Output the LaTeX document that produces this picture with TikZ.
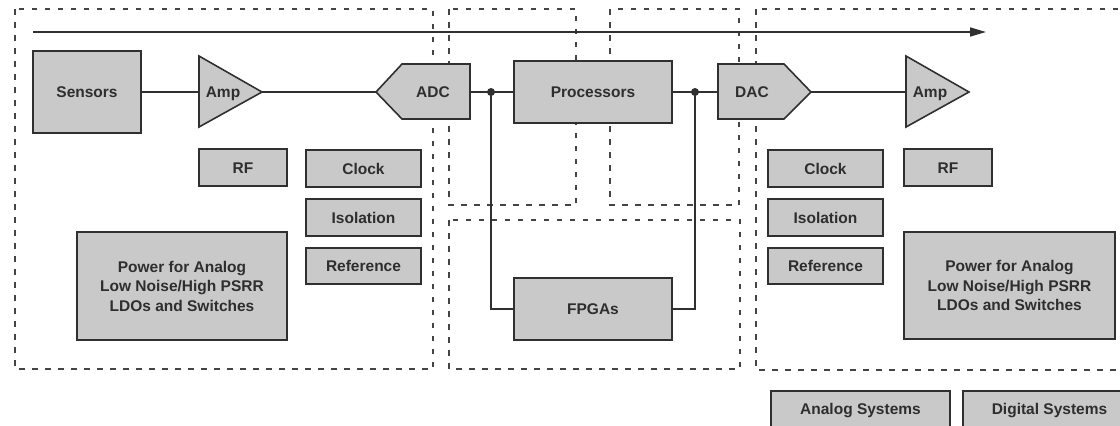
\documentclass[tikz,border=0pt]{standalone}
\usepackage{fontspec}
\setmainfont{Liberation Sans}
\usetikzlibrary{arrows.meta}
\definecolor{edgec}{HTML}{303030}
\definecolor{boxfill}{HTML}{C9C9C9}
\definecolor{txtc}{HTML}{2E2E2E}
\definecolor{dashc}{HTML}{444444}
\newcommand{\lblfont}{\bfseries\fontsize{15.5}{19.5}\selectfont}
\begin{document}
\begin{tikzpicture}[x=1pt,y=-1pt,
  region/.style={draw=dashc, line width=1.4pt, dash pattern=on 5.5pt off 7.5pt},
  blk/.style={draw=edgec, fill=boxfill, line width=1.6pt, text=txtc, font=\lblfont, inner sep=0pt, text height=11pt, text depth=0pt},
  multiblk/.style={draw=edgec, fill=boxfill, line width=1.6pt, text=txtc, font=\lblfont, inner sep=0pt, align=center},
  sz/.style 2 args={minimum width=#1pt, minimum height=#2pt},
  lbl/.style={text=txtc, font=\lblfont, inner sep=0pt, text height=11pt, text depth=0pt},
  wire/.style={draw=edgec, line width=1.6pt},
  shp/.style={draw=edgec, fill=boxfill, line width=1.6pt, line join=miter},
  junction/.style={circle, fill=edgec, inner sep=0pt, minimum size=8pt},
  flow/.style={draw=edgec, line width=1.6pt, -{Triangle[length=16pt,width=9pt]}},
]
\clip (0,0) rectangle (1120,426);

% dashed regions
\draw[region] (15,9) rectangle (433,369);
\draw[region] (449,9) rectangle (576,205);
\draw[region] (610,9) rectangle (739,205);
\draw[region] (449,220) rectangle (740,369);
\draw[region] (756,9) rectangle (1135,370);

% top flow arrow
\coordinate (flowstart) at (33,32);
\coordinate (flowend) at (986,32);
\draw[flow] (flowstart) -- (flowend);

% amplifier / converter shapes
\draw[shp] (199,56) -- (262,92) -- (199,127) -- cycle;
\draw[shp] (376,92) -- (402,64) -- (470,64) -- (470,119) -- (402,119) -- cycle;
\draw[shp] (718,64) -- (784,64) -- (811,92) -- (784,119) -- (718,119) -- cycle;
\draw[shp] (906,56) -- (969,92) -- (906,127) -- cycle;
\coordinate (amp1in) at (199,92);
\coordinate (amp1out) at (262,92);
\coordinate (adcin) at (376,92);
\coordinate (adcout) at (470,92);
\coordinate (dacin) at (718,92);
\coordinate (dacout) at (811,92);
\coordinate (amp2in) at (906,92);
\node[lbl] (amp1) at (223,92) {Amp};
\node[lbl] (adc) at (433,92) {ADC};
\node[lbl] (dac) at (752,92) {DAC};
\node[lbl] (amp2) at (930,92) {Amp};

% blocks
\node[blk, sz={108}{82}] (sensors) at (87,92) {Sensors};
\node[blk, sz={88}{37}] (rfl) at (243,167.5) {RF};
\node[blk, sz={115}{37}] (clockl) at (363.5,168.5) {Clock};
\node[blk, sz={115}{37}] (isol) at (363.5,217.5) {Isolation};
\node[blk, sz={115}{36}] (refl) at (363.5,266) {Reference};
\node[multiblk, sz={210}{108}] (powerl) at (182,286) {Power for Analog\\Low Noise/High PSRR\\LDOs and Switches};
\node[blk, sz={158}{62}] (proc) at (593,92) {Processors};
\node[blk, sz={158}{62}] (fpga) at (593,309) {FPGAs};
\node[blk, sz={115}{37}] (clockr) at (825.5,168.5) {Clock};
\node[blk, sz={88}{37}] (rfr) at (948,167.5) {RF};
\node[blk, sz={115}{37}] (isor) at (825.5,217.5) {Isolation};
\node[blk, sz={115}{36}] (refr) at (825.5,266) {Reference};
\node[multiblk, sz={211}{107}] (powerr) at (1009.5,285.5) {Power for Analog\\Low Noise/High PSRR\\LDOs and Switches};
\node[blk, sz={179}{36}] (analogsys) at (860.5,409) {Analog Systems};
\node[blk, sz={173}{36}] (digitalsys) at (1049.5,409) {Digital Systems};

% signal wires
\draw[wire] (sensors.east) -- (amp1in);
\draw[wire] (amp1out) -- (adcin);
\draw[wire] (adcout) -- (proc.west);
\draw[wire] (proc.east) -- (dacin);
\draw[wire] (dacout) -- (amp2in);

% junctions to FPGA
\node[junction] (j1) at (491,92) {};
\node[junction] (j2) at (695,92) {};
\draw[wire] (j1.center) |- (fpga.west);
\draw[wire] (j2.center) |- (fpga.east);
\end{tikzpicture}
\end{document}
